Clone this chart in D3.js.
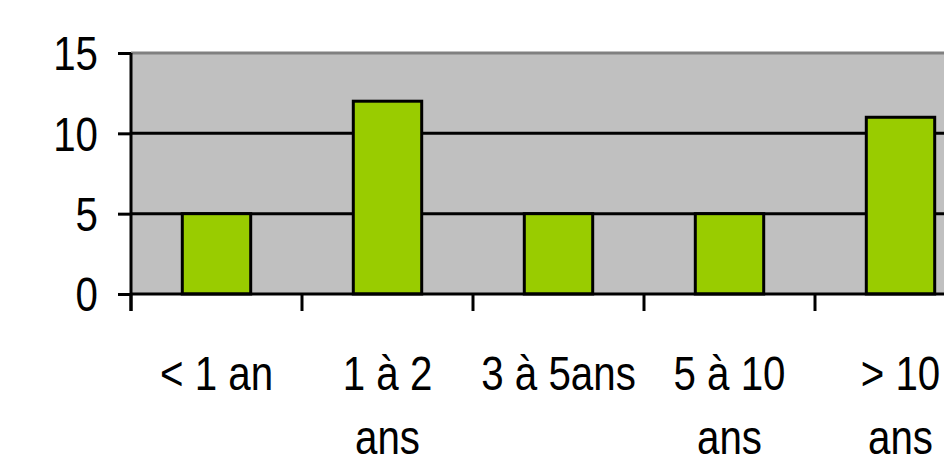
<!DOCTYPE html>
<html>
<head>
<meta charset="utf-8">
<script src="https://cdn.jsdelivr.net/npm/d3@7"></script>
<style>
  body { margin: 0; background: #fff; }
  svg text { font-family: "Liberation Sans", Arial, sans-serif; fill: #000; }
</style>
</head>
<body>
<div id="chart"></div>
<script>
const categories = ["< 1 an", "1 à 2 ans", "3 à 5ans", "5 à 10 ans", "> 10 ans"];
const labelLines = [["< 1 an"], ["1 à 2", "ans"], ["3 à 5ans"], ["5 à 10", "ans"], ["> 10", "ans"]];
const values = [5, 12, 5, 5, 11];
const yTicks = [0, 5, 10, 15];

const W = 944, H = 465;
const plotL = 131, plotR = 986, plotT = 53, plotB = 294;

const svg = d3.select("#chart").append("svg")
    .attr("width", W)
    .attr("height", H);

const x = d3.scaleBand()
    .domain(categories)
    .range([plotL, plotR])
    .paddingInner(0.6)
    .paddingOuter(0.3);

const y = d3.scaleLinear()
    .domain([0, 15])
    .range([plotB, plotT]);

// plot area
svg.append("rect")
    .attr("x", plotL).attr("y", plotT)
    .attr("width", plotR - plotL).attr("height", plotB - plotT)
    .style("fill", "#c0c0c0");
svg.append("line")
    .attr("x1", plotL).attr("x2", plotR)
    .attr("y1", plotT).attr("y2", plotT)
    .style("stroke", "#808080").style("stroke-width", 3);

// gridlines
svg.selectAll(".grid")
    .data(yTicks.filter(d => d > 0 && d < 15))
    .join("line")
      .attr("class", "grid")
      .attr("x1", plotL).attr("x2", plotR)
      .attr("y1", d => y(d)).attr("y2", d => y(d))
      .style("stroke", "#000").style("stroke-width", 3);

// bars
svg.selectAll(".bar")
    .data(values)
    .join("rect")
      .attr("class", "bar")
      .attr("x", (d, i) => x(categories[i]))
      .attr("y", d => y(d))
      .attr("width", x.bandwidth())
      .attr("height", d => plotB - y(d))
      .style("fill", "#99cc00")
      .style("stroke", "#000")
      .style("stroke-width", 3);

// y axis
const yAxis = svg.append("g")
    .attr("transform", `translate(${plotL},0)`)
    .call(d3.axisLeft(y).tickValues(yTicks).tickSize(13).tickPadding(0));
yAxis.select(".domain").remove();
yAxis.append("line")
    .attr("x1", 0).attr("x2", 0)
    .attr("y1", plotT).attr("y2", plotB + 17)
    .style("stroke", "#000").style("stroke-width", 3);
yAxis.selectAll(".tick line").style("stroke", "#000").style("stroke-width", 3);
yAxis.selectAll(".tick text").remove();
yAxis.selectAll(".tick")
  .append("text")
    .attr("transform", "translate(-33,0) scale(0.84,1)")
    .attr("text-anchor", "end")
    .attr("dy", "0.35em")
    .style("font-size", "48px")
    .text(d => d);

// x axis
svg.append("line")
    .attr("x1", plotL).attr("x2", plotR)
    .attr("y1", plotB).attr("y2", plotB)
    .style("stroke", "#000").style("stroke-width", 3);
const step = x.step();
const bounds = d3.range(categories.length + 1).map(i => plotL + i * step);
svg.selectAll(".xtick")
    .data(bounds)
    .join("line")
      .attr("class", "xtick")
      .attr("x1", d => d).attr("x2", d => d)
      .attr("y1", plotB).attr("y2", plotB + 17)
      .style("stroke", "#000").style("stroke-width", 3);

const lab = svg.selectAll(".xlab")
    .data(categories)
    .join("g")
      .attr("class", "xlab")
      .attr("transform", d => `translate(${x(d) + x.bandwidth() / 2},390)`);
lab.each(function(d, i) {
  d3.select(this).selectAll("text")
    .data(labelLines[i])
    .join("text")
      .attr("transform", (t, j) => `translate(0,${j * 64}) scale(0.84,1)`)
      .attr("text-anchor", "middle")
      .style("font-size", "48px")
      .text(t => t);
});
</script>
</body>
</html>
